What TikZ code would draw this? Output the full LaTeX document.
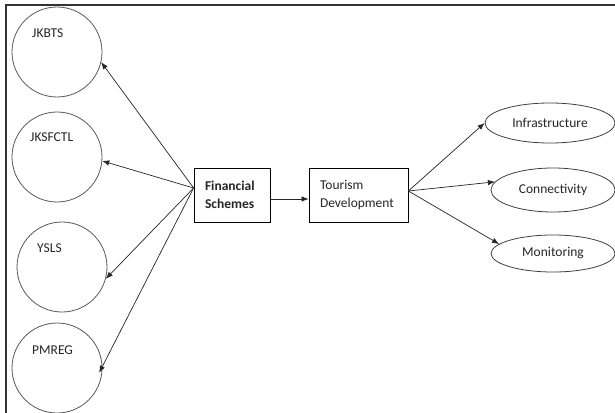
\documentclass[tikz,border=0pt]{standalone}
\usepackage{fontspec}
\setmainfont{Carlito}
\usetikzlibrary{shapes.geometric,arrows.meta}
\begin{document}
\begin{tikzpicture}[x=1pt,y=-1pt,
  every node/.style={font=\fontsize{13.5}{18}\selectfont, text=black!85},
  circ/.style={circle, draw=black!65, line width=0.8pt, minimum size=90pt, inner sep=0pt},
  lbl/.style={anchor=west, inner sep=0pt},
  box/.style={rectangle, draw=black, line width=0.8pt, minimum height=54pt, inner xsep=11pt, align=left},
  oval/.style={ellipse, draw=black!75, line width=0.8pt, inner sep=0pt},
  arr/.style={draw=black!85, line width=0.7pt, -{Latex[length=7pt,width=5.5pt]}},
  frame/.style={draw=black!80, line width=1.2pt}]
\useasboundingbox (0,0) rectangle (615,412);
\fill[white] (0,0) rectangle (615,412);
\draw[frame] (6,425) -- (6,5) -- (625,5);

\node[circ] (jkbts) at (57,52) {};
\node[circ] (jksfctl) at (57,157) {};
\node[circ] (ysls) at (62,267) {};
\node[circ] (pmreg) at (57,368) {};
\node[lbl] (tjkbts) at (32,33) {JKBTS};
\node[lbl] (tjksfctl) at (30,137) {JKSFCTL};
\node[lbl] (tysls) at (37,248) {YSLS};
\node[lbl] (tpmreg) at (32,350) {PMREG};

\node[box, minimum width=76pt, text width=54pt] (fs) at (232,195) {\textbf{Financial}\\\textbf{Schemes}};
\node[box, minimum width=99pt, text width=77pt] (td) at (358.5,195) {Tourism\\Development};

\node[oval, minimum width=130pt, minimum height=40pt] (infra) at (550,123) {Infrastructure};
\node[oval, minimum width=124pt, minimum height=44pt] (conn) at (553,190) {Connectivity};
\node[oval, minimum width=124pt, minimum height=37pt] (mon) at (553,253.5) {Monitoring};

\coordinate (fsl) at ([yshift=7pt]fs.west);
\draw[arr] (fsl) -- (jkbts.-13);
\draw[arr] (fsl) -- (jksfctl.-5);
\draw[arr] (fsl) -- (ysls.-15);
\draw[arr] (fsl) -- ([xshift=-3pt]pmreg.-6);

\draw[arr] ([yshift=-4pt]fs.east) -- ([yshift=-4pt]td.west);

\coordinate (tdr) at ([yshift=4pt]td.east);
\draw[arr] (tdr) -- (infra.west);
\draw[arr] (tdr) -- (conn.172);
\draw[arr] (tdr) -- (mon.170);
\end{tikzpicture}
\end{document}
